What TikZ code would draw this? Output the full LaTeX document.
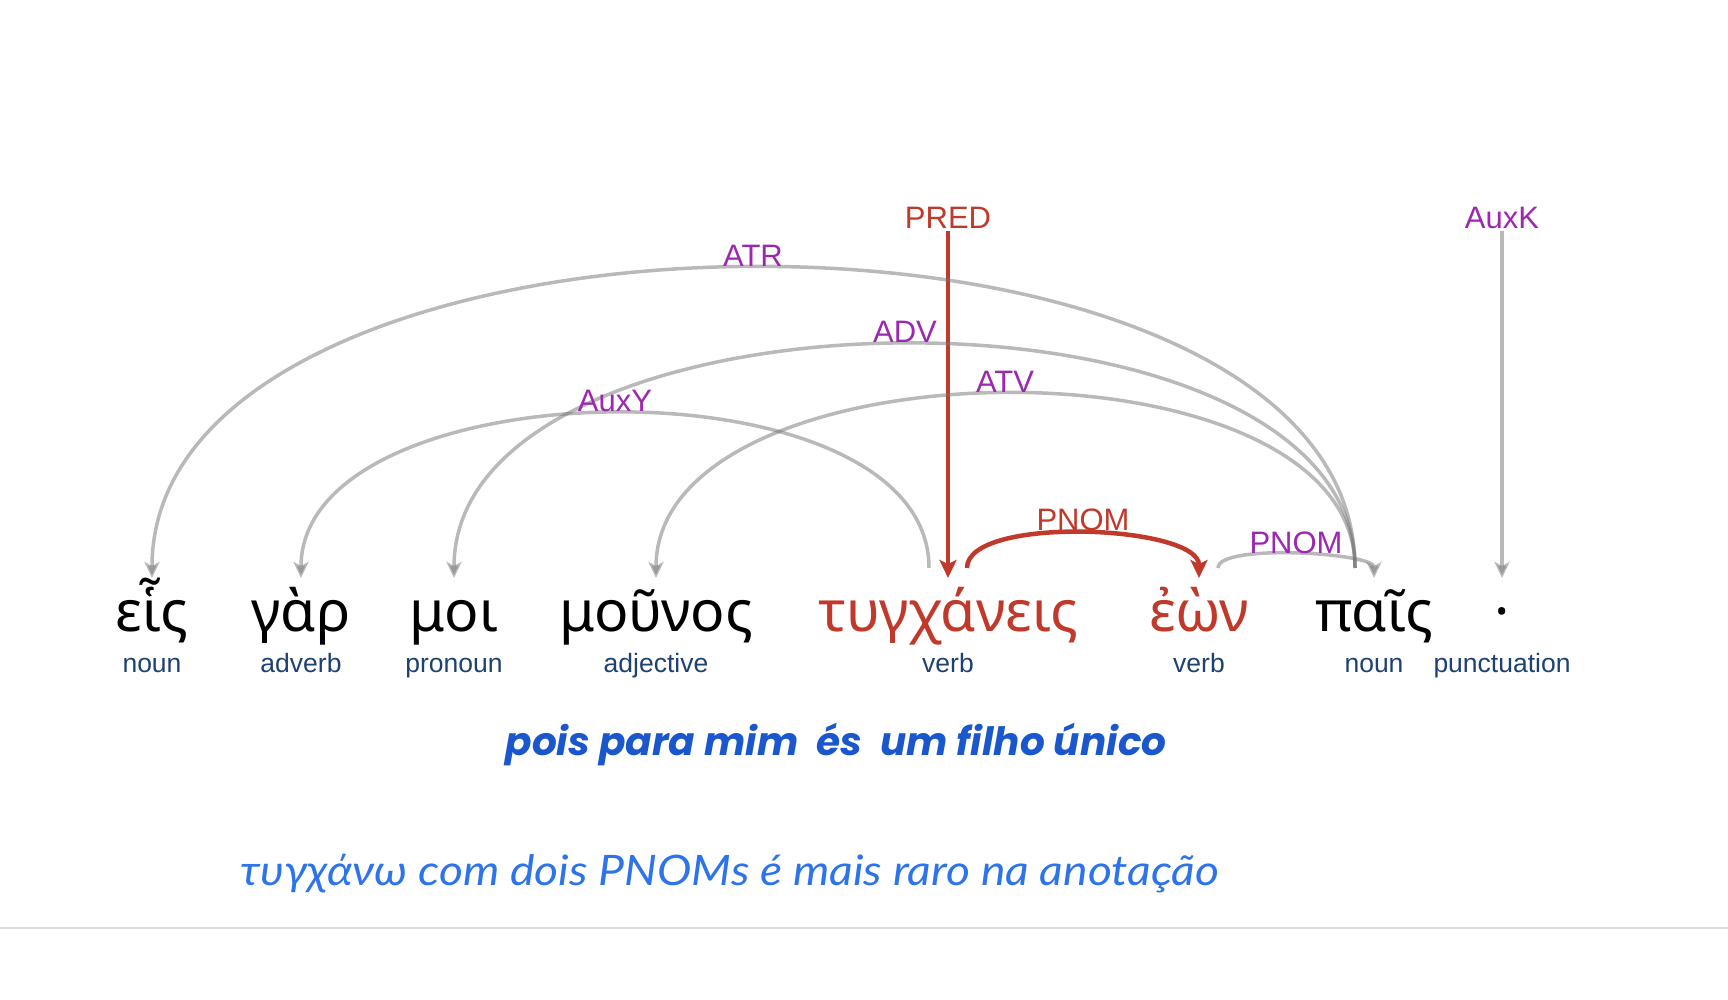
\documentclass[tikz,border=0pt]{standalone}
\usepackage{fontspec}
\setmainfont{Liberation Sans}
\newfontfamily\greekw{Noto Sans}
\newfontfamily\sentf{Poppins}
\newfontfamily\notef{Lato}[FakeStretch=1.1]
\usetikzlibrary{arrows.meta}
\definecolor{relred}{RGB}{192,57,43}
\definecolor{relpurple}{RGB}{156,39,176}
\definecolor{posblue}{RGB}{30,65,115}
\definecolor{sentblue}{RGB}{26,86,204}
\definecolor{noteblue}{RGB}{45,115,235}
\definecolor{sepgray}{RGB}{221,221,221}
\tikzset{
  wordnode/.style={anchor=base,inner sep=0pt,font=\greekw\fontsize{57pt}{62pt}\selectfont,text=black},
  redword/.style={wordnode,text=relred},
  poslabel/.style={anchor=base,inner sep=0pt,font=\fontsize{26.5pt}{30pt}\selectfont,text=posblue},
  rellabel/.style={anchor=base,inner sep=0pt,font=\fontsize{31pt}{36pt}\selectfont,text=relpurple},
  redrel/.style={rellabel,text=relred},
  deparc/.style={draw=black!55,opacity=0.5,line width=3.5pt,-{Stealth[length=16pt,width=15pt,inset=4pt]}},
  redarc/.style={draw=relred,line width=4.5pt,-{Stealth[length=18pt,width=17pt,inset=4pt]}},
}
\begin{document}
\begin{tikzpicture}[x=1pt,y=-1pt]
\useasboundingbox (0,0) rectangle (1728,1000);
% words
\node[wordnode] (w1) at (152,631) {εἷς};
\node[wordnode] (w2) at (301,631) {γὰρ};
\node[wordnode] (w3) at (454,631) {μοι};
\node[wordnode] (w4) at (656,631) {μοῦνος};
\node[redword]  (w5) at (948,631) {τυγχάνεις};
\node[redword]  (w6) at (1199,631) {ἐὼν};
\node[wordnode] (w7) at (1374,631) {παῖς};
\node[wordnode] (w8) at (1502,631) {·};
% parts of speech
\node[poslabel] (p1) at (152,672) {noun};
\node[poslabel] (p2) at (301,672) {adverb};
\node[poslabel] (p3) at (454,672) {pronoun};
\node[poslabel] (p4) at (656,672) {adjective};
\node[poslabel] (p5) at (948,672) {verb};
\node[poslabel] (p6) at (1199,672) {verb};
\node[poslabel] (p7) at (1374,672) {noun};
\node[poslabel] (p8) at (1502,672) {punctuation};
% root relations
\node[redrel] (pred) at (948,229) {PRED};
\node[rellabel] (auxk) at (1502,229) {AuxK};
\draw[redarc] ([yshift=-2pt]pred.base) -- ([yshift=53pt]w5.base);
\draw[deparc] ([yshift=-2pt]auxk.base) -- ([yshift=53pt]w8.base);
% arcs
\draw[deparc] ([xshift=-19pt,yshift=63pt]w7.base) .. controls +(0,-407) and +(0,-407) .. ([yshift=53pt]w1.base);
\draw[deparc] ([xshift=-19pt,yshift=63pt]w7.base) .. controls +(0,-305) and +(0,-305) .. ([yshift=53pt]w3.base);
\draw[deparc] ([xshift=-19pt,yshift=63pt]w5.base) .. controls +(0,-213) and +(0,-213) .. ([yshift=53pt]w2.base);
\draw[deparc] ([xshift=-19pt,yshift=63pt]w7.base) .. controls +(0,-239) and +(0,-239) .. ([yshift=53pt]w4.base);
\draw[redarc] ([xshift=19pt,yshift=63pt]w5.base) .. controls +(0,-53) and +(0,-53) .. ([yshift=53pt]w6.base);
\draw[deparc] ([xshift=19pt,yshift=63pt]w6.base) .. controls +(0,-25) and +(0,-25) .. ([yshift=53pt]w7.base);
% relation labels
\node[rellabel] (l1) at (753,266) {ATR};
\node[rellabel] (l2) at (905,342) {ADV};
\node[rellabel] (l3) at (615,411) {AuxY};
\node[rellabel] (l4) at (1005,392) {ATV};
\node[redrel]   (l5) at (1083,530) {PNOM};
\node[rellabel] (l6) at (1296,553) {PNOM};
% translation and note
\node[anchor=base,inner sep=0pt,font=\sentf\bfseries\itshape\fontsize{39pt}{45pt}\selectfont,text=sentblue] (tr) at (836,755) {pois para mim\ \ és\ \ um filho único};
\node[anchor=base,inner sep=0pt,font=\notef\itshape\fontsize{42pt}{48pt}\selectfont,text=noteblue] (note) at (730,885) {τυγχάνω com dois PNOMs é mais raro na anotação};
\draw[sepgray,line width=2pt] (0,928) -- (1728,928);
\end{tikzpicture}
\end{document}
